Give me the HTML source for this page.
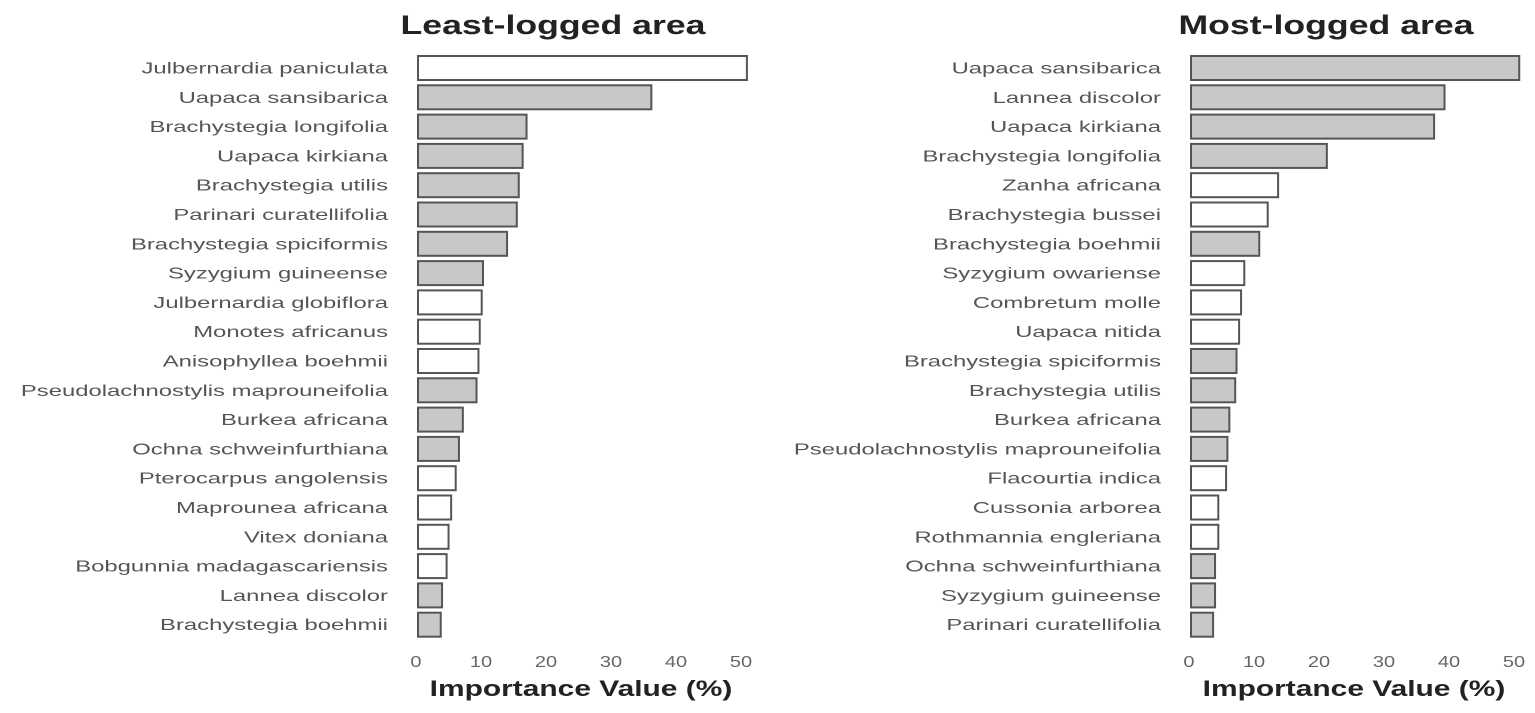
<!DOCTYPE html>
<html><head><meta charset="utf-8"><style>
body{margin:0;background:#fff;}
svg{display:block;font-family:"Liberation Sans",sans-serif;}
</style></head><body>
<svg id="chart" width="1535" height="713"></svg>
<script>
const leftNames=["Julbernardia paniculata","Uapaca sansibarica","Brachystegia longifolia","Uapaca kirkiana","Brachystegia utilis","Parinari curatellifolia","Brachystegia spiciformis","Syzygium guineense","Julbernardia globiflora","Monotes africanus","Anisophyllea boehmii","Pseudolachnostylis maprouneifolia","Burkea africana","Ochna schweinfurthiana","Pterocarpus angolensis","Maprounea africana","Vitex doniana","Bobgunnia madagascariensis","Lannea discolor","Brachystegia boehmii"];
const leftValues=[50.6,35.9,16.7,16.1,15.5,15.2,13.7,10.0,9.8,9.5,9.3,9.0,6.9,6.3,5.8,5.1,4.7,4.4,3.7,3.5];
const leftShaded=[0,1,1,1,1,1,1,1,0,0,0,1,1,1,0,0,0,0,1,1];
const rightNames=["Uapaca sansibarica","Lannea discolor","Uapaca kirkiana","Brachystegia longifolia","Zanha africana","Brachystegia bussei","Brachystegia boehmii","Syzygium  owariense","Combretum molle","Uapaca nitida","Brachystegia spiciformis","Brachystegia utilis","Burkea africana","Pseudolachnostylis maprouneifolia","Flacourtia indica","Cussonia arborea","Rothmannia engleriana","Ochna schweinfurthiana","Syzygium guineense","Parinari curatellifolia"];
const rightValues=[50.5,39.0,37.4,20.9,13.4,11.8,10.5,8.2,7.7,7.4,7.0,6.8,5.9,5.6,5.4,4.2,4.2,3.7,3.7,3.4];
const rightShaded=[1,1,1,1,0,0,1,0,0,0,1,1,1,1,0,0,0,1,1,1];
const tickValues=[0,10,20,30,40,50];
const NS="http://www.w3.org/2000/svg";
const svg=document.getElementById('chart');
function mk(tag,attrs,parent){const e=document.createElementNS(NS,tag);for(const k in attrs)e.setAttribute(k,attrs[k]);(parent||svg).appendChild(e);return e;}
function stretch(t,f){const w=t.getComputedTextLength();t.setAttribute('textLength',w*f);t.setAttribute('lengthAdjust','spacingAndGlyphs');}
function panel(title,names,values,shaded,x0,key){
  const g=mk('g',{});
  
  
  const sx=v=>x0+v*6.5;
  const sy=i=>68+i*29.3;
  const t=mk('text',{x:x0+135,y:34,'text-anchor':'middle','font-size':27,'font-weight':'bold',fill:'#222'},g);
  t.textContent=title;
  
  
  stretch(t,1.32);
  names.forEach((n,i)=>{
    const l=mk('text',{x:x0-30,y:sy(i)+5.5,'text-anchor':'end','font-size':16,fill:'#555'},g);
    l.textContent=n;
    
    
    stretch(l,1.49);
    const r=mk('rect',{x:x0,y:sy(i)-12,width:sx(values[i])-x0,height:24,fill:shaded[i]?'#c8c8c8':'#fff',stroke:'#555','stroke-width':2},g);
    
    
  });
  tickValues.forEach(v=>{
    const tt=mk('text',{x:sx(v)-2,y:667,'text-anchor':'middle','font-size':16,fill:'#666'},g);
    tt.textContent=v;
    
    
    stretch(tt,1.25);
  });
  const at=mk('text',{x:x0+163,y:696,'text-anchor':'middle','font-size':22,'font-weight':'bold',fill:'#222'},g);
  at.textContent='Importance Value (%)';
  
  
  stretch(at,1.36);
}
panel('Least-logged area',leftNames,leftValues,leftShaded,418,'left');
panel('Most-logged area',rightNames,rightValues,rightShaded,1191,'right');
</script>
</body></html>
